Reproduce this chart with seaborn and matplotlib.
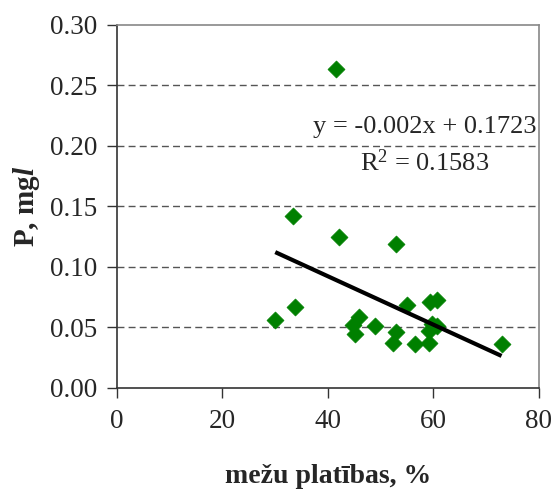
import numpy as np
import pandas as pd
import seaborn as sns
import matplotlib.pyplot as plt

# forest share (%) and phosphorus concentration (mg/l)
forest_pct = [41.5, 33.3, 42.1, 52.8, 30.0, 33.7, 45.9, 44.7, 45.1, 48.9,
              52.9, 52.3, 56.4, 55.0, 59.4, 60.7, 59.8, 59.2, 59.2, 72.9, 60.6]
phosphorus = [0.264, 0.142, 0.125, 0.119, 0.056, 0.067, 0.059, 0.052, 0.045, 0.051,
              0.046, 0.037, 0.036, 0.069, 0.071, 0.073, 0.053, 0.047, 0.037, 0.036, 0.051]

# trend line as printed on the chart
slope = -0.002
intercept = 0.1723
r_squared = 0.1583

x_ticks = [0, 20, 40, 60, 80]
y_ticks = [0.00, 0.05, 0.10, 0.15, 0.20, 0.25, 0.30]

sns.set_style("ticks")
plt.rcParams["font.family"] = ["Liberation Serif", "DejaVu Serif"]
plt.rcParams["mathtext.fontset"] = "custom"
plt.rcParams["mathtext.rm"] = "Liberation Serif"
plt.rcParams["mathtext.it"] = "Liberation Serif:bold:italic"
plt.rcParams["mathtext.bf"] = "Liberation Serif:bold"

df = pd.DataFrame({"forest": forest_pct, "P": phosphorus})

fig = plt.figure(figsize=(5.59, 4.98), dpi=100)
ax = fig.add_axes([0.2093, 0.2209, 0.7549, 0.7289])

# grid first so markers sit on top
for yv in y_ticks[1:-1]:
    ax.axhline(yv, color="#555555", linewidth=1.0, linestyle=(0, (5, 3)), zorder=1)

sns.scatterplot(data=df, x="forest", y="P", marker="D", s=75, color="#008000",
                edgecolor="#008000", linewidth=0.5, ax=ax, zorder=3)

x_line = np.array([min(forest_pct), max(forest_pct)])
ax.plot(x_line, slope * x_line + intercept, color="black", linewidth=3, zorder=4,
        solid_capstyle="butt")

ax.text(58.4, 0.2155, f"y = {slope}x + {intercept}", ha="center", va="center",
        fontsize=19)
ax.text(58.4, 0.186, f"R$^2$ = {r_squared}", ha="center", va="center",
        fontsize=19)

ax.set_xlim(0, 80)
ax.set_ylim(0, 0.30)
ax.set_xticks(x_ticks)
ax.set_yticks(y_ticks)
ax.set_yticklabels([f"{v:.2f}" for v in y_ticks])
ax.tick_params(labelsize=19.5, length=7, width=1, color="#333333", pad=7)
ax.tick_params(axis="x", pad=8)

for side in ["left", "bottom"]:
    ax.spines[side].set_color("#333333")
    ax.spines[side].set_linewidth(1.2)
for side in ["top", "right"]:
    ax.spines[side].set_color("#888888")
    ax.spines[side].set_linewidth(1.2)

ax.set_xlabel("mežu platības, %", fontsize=20, fontweight="bold", labelpad=22)
ax.set_ylabel(r"P, mg$\it{l}$", fontsize=21, fontweight="bold", labelpad=6)

fig.savefig("out.png", dpi=100)
